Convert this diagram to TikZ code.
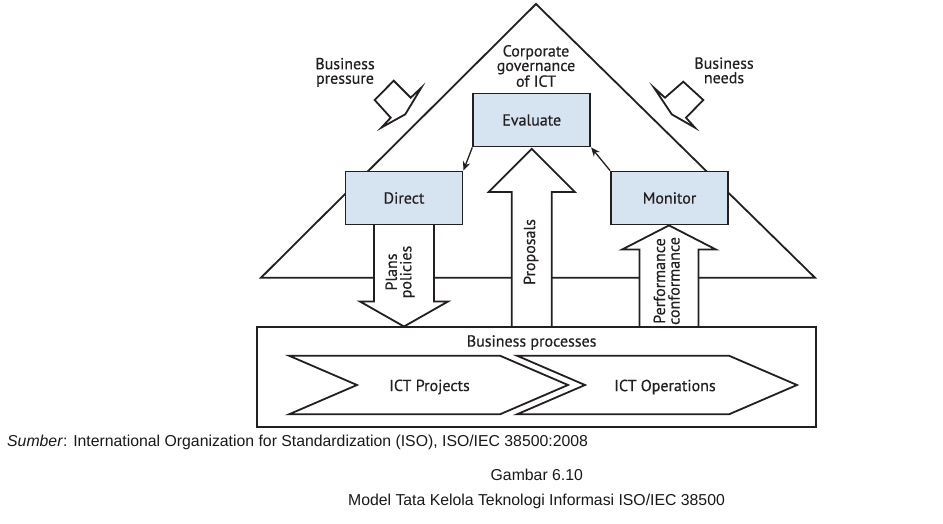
\documentclass[tikz,border=0pt]{standalone}
\usepackage{fontspec}
\setmainfont{PT Sans}
\newfontfamily\diafont{PT Sans}[FakeBold=0.4]
\newfontfamily\capfont{Liberation Sans}
\usetikzlibrary{arrows.meta,calc}
\definecolor{ink}{RGB}{35,31,32}
\definecolor{boxblue}{RGB}{214,227,241}
\begin{document}
\begin{tikzpicture}[x=1pt,y=-1pt,
  line/.style={draw=ink,line width=1.8pt,line join=miter},
  govbox/.style={draw=ink,line width=1.8pt,fill=boxblue,minimum width=117pt,minimum height=53pt,inner sep=0pt,font=\diafont\fontsize{16}{14.5}\selectfont,text=ink},
  lbl/.style={font=\diafont\fontsize{16}{14.5}\selectfont,text=ink,align=center,inner sep=0pt},
  hollow/.style={draw=ink,line width=1.8pt,fill=white,line join=miter},
  thinarrow/.style={draw=ink,line width=1.3pt,-{Stealth[length=9pt,width=7.5pt]}},
  captext/.style={font=\capfont\fontsize{15.8}{18}\selectfont,text=black!90,inner sep=0pt}]
\useasboundingbox (0,0) rectangle (943,523);
\fill[white] (0,0) rectangle (943,523);

% triangle
\draw[line] (261,277.7) -- (536,4) -- (815,277.7) -- cycle;

% pressure arrows
\draw[line] (393.7,80.7) -- (410.7,97.7) -- (421.3,87.7) -- (405.3,114.3) -- (381.5,127.5) -- (390.7,117.7) -- (374.7,100) -- cycle;
\draw[line] (683.3,81.7) -- (703.3,100) -- (686,117.7) -- (695,127.7) -- (671.7,114.3) -- (654,87.7) -- (665,97.7) -- cycle;

% box positions (nodes placed first invisibly for anchors)
\path (531.7,120) node[govbox,draw=none,fill=none] (evaluate) {}
      (404,198) node[govbox,draw=none,fill=none] (direct) {}
      (669.5,198) node[govbox,draw=none,fill=none] (monitor) {}
      (536.7,376.7) node[draw=none,minimum width=558.7pt,minimum height=100pt,inner sep=0pt] (bp) {};

% hollow arrows
\coordinate (pltip) at (direct.south |- bp.north);
\draw[hollow] ($(direct.south)+(-30,-4)$) -- ($(pltip)+(-30,-25)$) -- ($(pltip)+(-44,-25)$) -- (pltip) -- ($(pltip)+(44,-25)$) -- ($(pltip)+(30,-25)$) -- ($(direct.south)+(30,-4)$);
\coordinate (prtip) at ($(evaluate.south)+(0,1.5)$);
\draw[hollow] ($(prtip |- bp.north)+(-20,0)$) -- ($(prtip)+(-20,43)$) -- ($(prtip)+(-43,43)$) -- (prtip) -- ($(prtip)+(43,43)$) -- ($(prtip)+(20,43)$) -- ($(prtip |- bp.north)+(20,0)$);
\coordinate (pftip) at ($(monitor.south)+(-0.5,0)$);
\draw[hollow] ($(pftip |- bp.north)+(-29.5,0)$) -- ($(pftip)+(-29.5,24)$) -- ($(pftip)+(-46.7,24)$) -- (pftip) -- ($(pftip)+(46.7,24)$) -- ($(pftip)+(29.5,24)$) -- ($(pftip |- bp.north)+(29.5,0)$);

% business processes box
\node[line,minimum width=558.7pt,minimum height=100pt,inner sep=0pt] (bpbox) at (536.7,376.7) {};
\node[lbl] (bptext) at (531.6,342.5) {Business processes};

% chevrons
\draw[line] (289,355.7) -- (500,355.7) -- (568,385) -- (500,414.3) -- (289,414.3) -- (357,385) -- cycle;
\draw[line] (517,355.7) -- (729,355.7) -- (797,385) -- (729,414.3) -- (517,414.3) -- (585,385) -- cycle;
\node[lbl] (proj) at (429.5,387) {ICT Projects};
\node[lbl] (ops) at (665,387) {ICT Operations};

% governance boxes
\node[govbox] (evaluateb) at (531.7,120) {Evaluate};
\node[govbox] (directb) at (404,198) {Direct};
\node[govbox] (monitorb) at (669.5,198) {Monitor};

% small arrows
\draw[thinarrow] (evaluateb.south west) -- (directb.north east);
\draw[thinarrow] (monitorb.north west) -- (evaluateb.south east);

% labels
\node[lbl] (corp) at (536,66) {Corporate\\governance\\of ICT};
\node[lbl] (bpress) at (345,72.4) {Business\\pressure};
\node[lbl] (bneeds) at (724,70.4) {Business\\needs};
\node[lbl,rotate=90] (plans) at (400,272) {Plans\\policies};
\node[lbl,rotate=90] (props) at (531,252) {Proposals};
\node[lbl,rotate=90] (perf) at (666.7,281) {Performance\\conformance};

% caption
\node[captext,anchor=base west] (src) at (7,446) {\textit{Sumber}: International Organization for Standardization (ISO), ISO/IEC 38500:2008};
\node[captext,anchor=base] (gbr) at (536.8,480) {Gambar 6.10};
\node[captext,anchor=base] (title) at (536.5,505.7) {Model Tata Kelola Teknologi Informasi ISO/IEC 38500};
\end{tikzpicture}
\end{document}
